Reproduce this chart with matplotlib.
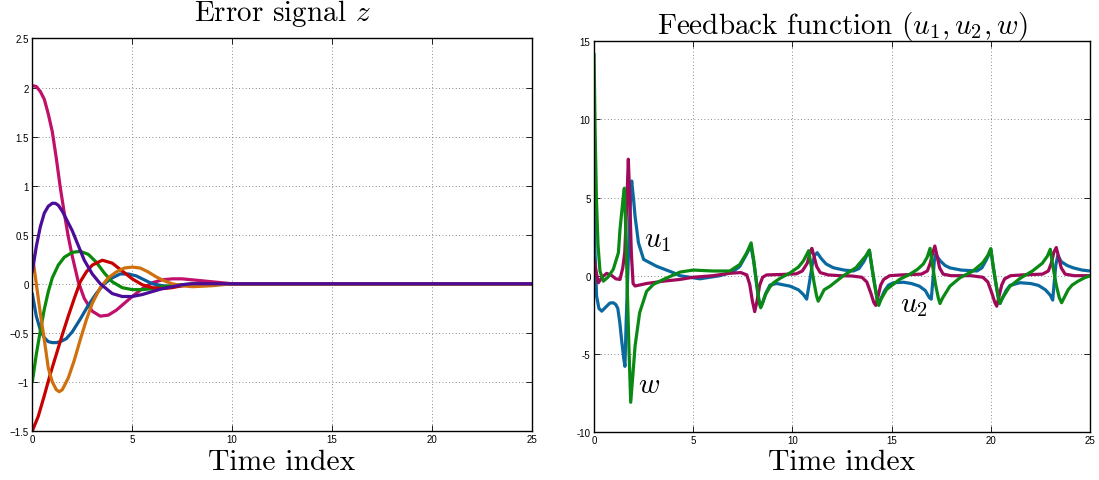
#!/usr/bin/env python
# -*- coding: utf8 -*-
#   plot.py
#
#   error signal z and feedback function (u1, u2, w)
#

import numpy as np
import matplotlib
matplotlib.use('Agg')
import matplotlib.pyplot as plt
from matplotlib.ticker import FuncFormatter

# ==============================================================================
# -- data ----------------------------------------------------------------------
# ==============================================================================

# left panel: six components of the error signal z
t_z1 = [0, 0.2, 0.4, 0.6, 0.8, 1.0, 1.2, 1.4, 1.6, 1.8, 2.0, 2.3, 2.6, 3.0, 3.4,
        3.8, 4.2, 4.6, 5.0, 5.5, 6.0, 6.5, 7.0, 7.5, 8.0, 9.0, 10.0, 25]
z1 = [2.02, 2.01, 1.96, 1.88, 1.73, 1.55, 1.28, 0.98, 0.72, 0.48, 0.28, 0.02, -0.15,
      -0.28, -0.33, -0.32, -0.27, -0.2, -0.13, -0.05, 0.01, 0.04, 0.05, 0.05, 0.04,
      0.02, 0.0, 0.0]

t_z2 = [0, 0.2, 0.4, 0.6, 0.8, 1.0, 1.15, 1.3, 1.5, 1.7, 2.0, 2.3, 2.6, 3.0, 3.4,
        4.0, 4.5, 5.0, 5.5, 6.0, 6.5, 7.0, 7.5, 8.0, 9.0, 25]
z2 = [0.12, 0.38, 0.58, 0.72, 0.79, 0.82, 0.82, 0.80, 0.74, 0.66, 0.54, 0.39, 0.24,
      0.1, 0.0, -0.1, -0.13, -0.13, -0.11, -0.08, -0.05, -0.03, -0.01, 0.0, 0.0, 0.0]

t_z3 = [0, 0.2, 0.4, 0.6, 0.8, 1.0, 1.3, 1.6, 2.0, 2.4, 2.8, 3.2, 3.6, 4.0, 4.5,
        5.0, 5.5, 6.0, 6.5, 7.0, 8.0, 9.0, 25]
z3 = [-1.0, -0.72, -0.48, -0.26, -0.08, 0.06, 0.19, 0.27, 0.32, 0.33, 0.3, 0.22,
      0.11, 0.02, -0.04, -0.06, -0.06, -0.05, -0.03, -0.02, 0.0, 0.0, 0.0]

t_z4 = [0, 0.3, 0.6, 0.9, 1.2, 1.5, 1.8, 2.1, 2.4, 2.7, 3.0, 3.5, 4.0, 4.5, 5.0,
        5.5, 6.0, 6.5, 7.0, 7.5, 8.0, 9.0, 25]
z4 = [-1.5, -1.35, -1.14, -0.92, -0.72, -0.52, -0.33, -0.15, 0.02, 0.12, 0.19, 0.24,
      0.21, 0.13, 0.05, -0.01, -0.04, -0.05, -0.04, -0.02, -0.01, 0.0, 0.0]

t_z5 = [0, 0.2, 0.4, 0.6, 0.8, 1.0, 1.2, 1.4, 1.7, 2.0, 2.4, 2.8, 3.2, 3.6, 4.0,
        4.4, 4.8, 5.2, 5.6, 6.0, 6.5, 7.0, 7.5, 8.0, 9.0, 25]
z5 = [-0.1, -0.33, -0.47, -0.55, -0.59, -0.6, -0.6, -0.59, -0.56, -0.49, -0.36,
      -0.22, -0.1, 0.0, 0.06, 0.1, 0.1, 0.08, 0.04, 0.0, -0.02, -0.03, -0.02, -0.01,
      0.0, 0.0]

t_z6 = [0, 0.1, 0.2, 0.4, 0.6, 0.8, 1.0, 1.2, 1.35, 1.5, 1.8, 2.1, 2.4, 2.7, 3.0,
        3.4, 3.8, 4.2, 4.6, 5.0, 5.4, 5.8, 6.2, 6.6, 7.0, 7.5, 8.0, 9.0, 10.0, 25]
z6 = [0.29, 0.15, 0.0, -0.3, -0.57, -0.86, -1.0, -1.08, -1.1, -1.08, -0.96, -0.78,
      -0.57, -0.37, -0.2, -0.04, 0.06, 0.12, 0.16, 0.17, 0.16, 0.12, 0.07, 0.03, 0.0,
      -0.02, -0.03, -0.02, 0.0, 0.0]

# right panel: feedback u1 (blue), u2 (magenta), w (green)
t_u1 = [0, 0.05, 0.13, 0.25, 0.39, 0.6, 0.8, 0.97, 1.1, 1.2, 1.3, 1.39, 1.5, 1.56,
        1.62, 1.7, 1.78, 1.86, 1.9, 2.0, 2.07, 2.24, 2.5, 3.16, 4.0, 4.33, 5.34, 6.35,
        7.0, 7.35, 7.7, 7.9, 8.05, 8.2, 8.32, 8.4, 8.5, 8.65, 8.87, 9.2, 9.88, 10.3,
        10.55, 10.72, 10.85, 11.0, 11.12, 11.25, 11.45, 11.7, 12.06, 12.6, 13.07,
        13.35, 13.6, 13.75, 13.88, 14.0, 14.15, 14.27, 14.35, 14.47, 14.65, 14.85,
        15.1, 15.6, 16.0, 16.4, 16.7, 16.9, 17.0, 17.08, 17.15, 17.22, 17.45, 17.7,
        17.94, 18.5, 19.3, 19.55, 19.75, 19.9, 20.0, 20.12, 20.27, 20.38, 20.46,
        20.58, 20.77, 20.97, 21.47, 22.0, 22.4, 22.75, 23.0, 23.12, 23.2, 23.28,
        23.38, 23.55, 23.85, 24.16, 24.6, 25.0]
u1 = [6.2, 1.5, -1.3, -2.1, -2.27, -2.0, -1.75, -1.73, -1.85, -2.1, -3.0, -4.1,
      -5.3, -5.8, -3.0, 0.0, 3.0, 5.5, 6.06, 4.8, 3.8, 2.1, 1.04, 0.6, 0.19, 0.0,
      -0.2, 0.0, 0.25, 0.6, 1.4, 1.95, 0.9, -0.6, -1.7, -2.0, -1.7, -1.15, -0.6,
      -0.5, -0.67, -0.9, -1.2, -1.5, -0.5, 0.7, 1.3, 1.47, 1.1, 0.75, 0.51, 0.36,
      0.3, 0.45, 0.9, 1.3, 1.62, 0.6, -0.6, -1.45, -1.8, -1.45, -0.95, -0.6, -0.45,
      -0.42, -0.5, -0.67, -0.95, -1.4, -1.5, -0.3, 0.9, 1.37, 0.95, 0.65, 0.5, 0.36,
      0.3, 0.5, 0.95, 1.35, 1.7, 0.6, -0.6, -1.4, -1.78, -1.45, -0.95, -0.62, -0.45,
      -0.5, -0.62, -0.9, -1.25, -1.56, -0.4, 0.7, 1.3, 0.9, 0.65, 0.5, 0.36, 0.3]

t_u2 = [0, 0.1, 0.22, 0.4, 0.64, 0.9, 1.1, 1.31, 1.45, 1.55, 1.65, 1.73, 1.8, 1.88,
        1.97, 2.07, 2.65, 3.5, 4.33, 5.0, 6.0, 6.8, 7.4, 7.7, 7.85, 7.98, 8.1, 8.22,
        8.35, 8.5, 8.7, 9.5, 10.2, 10.5, 10.75, 10.9, 10.98, 11.08, 11.22, 11.4, 11.8,
        12.4, 13.0, 13.5, 13.75, 13.95, 14.1, 14.2, 14.32, 14.45, 14.6, 14.9, 15.5,
        16.5, 16.8, 16.95, 17.08, 17.18, 17.3, 17.42, 17.6, 18.0, 19.0, 19.6, 19.85,
        20.05, 20.2, 20.3, 20.42, 20.55, 20.7, 21.0, 21.6, 22.6, 22.9, 23.05, 23.18,
        23.3, 23.42, 23.55, 23.75, 24.2, 25.0]
u2 = [1.05, 0.3, -0.45, -0.1, 0.15, 0.0, -0.2, -0.24, 0.5, 1.5, 4.5, 7.45, 5.0, 1.5,
      -0.5, -0.66, -0.5, -0.35, -0.24, -0.1, 0.0, 0.15, 0.2, 0.05, -0.56, -1.6, -2.3,
      -1.6, -0.6, -0.1, 0.05, 0.08, 0.12, 0.3, 0.8, 1.5, 1.75, 1.3, 0.6, 0.2, 0.05,
      0.0, -0.02, -0.1, -0.4, -1.1, -1.7, -1.9, -1.3, -0.6, -0.24, 0.0, 0.05, 0.1,
      0.3, 0.8, 1.5, 1.9, 1.2, 0.5, 0.1, 0.0, 0.0, -0.1, -0.4, -1.1, -1.7, -1.95,
      -1.3, -0.6, -0.2, 0.0, 0.05, 0.1, 0.3, 0.8, 1.5, 1.8, 1.2, 0.5, 0.1, 0.0, 0.0]

t_w = [0, 0.06, 0.12, 0.2, 0.3, 0.47, 0.7, 0.97, 1.23, 1.31, 1.48, 1.53, 1.6, 1.68,
       1.77, 1.85, 1.98, 2.07, 2.3, 2.65, 3.0, 3.5, 4.33, 5.0, 6.0, 6.85, 7.35, 7.7,
       7.92, 8.05, 8.2, 8.32, 8.4, 8.5, 8.65, 8.85, 9.05, 9.4, 9.9, 10.3, 10.55, 10.72,
       10.82, 10.95, 11.1, 11.22, 11.3, 11.42, 11.6, 11.9, 12.57, 13.2, 13.7, 13.88,
       14.0, 14.15, 14.27, 14.35, 14.47, 14.75, 15.4, 15.9, 16.3, 16.6, 16.8, 16.94,
       17.07, 17.22, 17.35, 17.44, 17.56, 17.94, 18.45, 19.1, 19.6, 19.85, 20.0, 20.12,
       20.27, 20.38, 20.46, 20.58, 20.95, 21.5, 22.1, 22.6, 22.85, 23.0, 23.13, 23.3,
       23.45, 23.57, 23.7, 23.9, 24.1, 24.4, 24.7, 25.0]
w = [14.2, 9.0, 5.0, 2.0, 0.3, -0.35, -0.1, 0.4, 1.47, 2.97, 5.1, 5.6, 3.0, -1.0,
     -5.0, -8.1, -6.0, -4.5, -2.37, -1.0, -0.55, -0.24, 0.23, 0.36, 0.3, 0.3, 0.72,
     1.47, 2.1, 1.0, -0.5, -1.6, -2.05, -1.75, -1.2, -0.75, -0.45, -0.15, 0.19, 0.55,
     0.94, 1.35, 1.6, 0.6, -0.5, -1.3, -1.63, -1.35, -0.9, -0.67, 0.0, 0.51, 1.26,
     1.64, 0.6, -0.6, -1.5, -1.9, -1.5, -0.88, -0.24, 0.08, 0.4, 0.75, 1.2, 1.75, 0.6,
     -0.6, -1.4, -1.78, -1.45, -0.67, -0.13, 0.3, 0.83, 1.3, 1.73, 0.6, -0.6, -1.4,
     -1.78, -1.45, -0.7, -0.15, 0.3, 0.8, 1.25, 1.69, 0.6, -0.6, -1.4, -1.73, -1.4,
     -0.9, -0.6, -0.35, -0.15, 0.0]

z_colors = ['#c0106a', '#0c5c9c', '#0a8a0a', '#c80000', '#d0700c', '#4b0c9a']
u_colors = ['#0a6aa0', '#a0085a', '#0a8a14']

# ==============================================================================
# -- plotting ------------------------------------------------------------------
# ==============================================================================
plt.rcParams['mathtext.fontset'] = 'cm'
plt.rcParams['font.family'] = ['Liberation Sans', 'DejaVu Sans']

fig = plt.figure(figsize=(10.99, 4.81), dpi=100)
ax1 = fig.add_axes([0.0294, 0.102, 0.4546, 0.816])
ax2 = fig.add_axes([0.5405, 0.0998, 0.4513, 0.8124])


def style_axis(ax, minus):
    ax.tick_params(direction='in', top=True, right=True, length=4, width=0.6,
                   labelsize=7, pad=2.5, colors='black')
    for sp in ax.spines.values():
        sp.set_linewidth(1.0)
    ax.grid(True, linestyle=(0, (1, 3)), color='#666666', linewidth=0.6)
    ax.set_axisbelow(True)
    ax.yaxis.set_major_formatter(FuncFormatter(lambda v, p: ('%g' % v).replace('-', minus)))


# left: error signal
z_t = [t_z1, t_z5, t_z3, t_z4, t_z6, t_z2]
z_v = [z1, z5, z3, z4, z6, z2]
for tt, vv, cc in zip(z_t, z_v, z_colors):
    ax1.plot(tt, vv, color=cc, linewidth=2.3, solid_capstyle='round')
ax1.set_xlim(0, 25)
ax1.set_ylim(-1.5, 2.5)
ax1.set_xticks(np.arange(0, 26, 5))
ax1.set_yticks(np.arange(-1.5, 2.51, 0.5))
style_axis(ax1, '\u2212')
ax1.set_title('Error signal $z$', fontsize=21, family='cmr10', pad=13)
ax1.set_xlabel('Time index', fontsize=21.3, family='cmr10', va='baseline')
ax1.xaxis.set_label_coords(0.5, -0.097)

# right: feedback function
for tt, vv, cc in zip([t_u1, t_u2, t_w], [u1, u2, w], u_colors):
    ax2.plot(tt, vv, color=cc, linewidth=2.3, solid_capstyle='round')
ax2.set_xlim(0, 25)
ax2.set_ylim(-10, 15)
ax2.set_xticks(np.arange(0, 26, 5))
ax2.set_yticks(np.arange(-10, 16, 5))
style_axis(ax2, '-')
ax2.set_title('Feedback function $(u_1, u_2, w)$', fontsize=21, family='cmr10', pad=6)
ax2.set_xlabel('Time index', fontsize=21.3, family='cmr10', va='baseline')
ax2.xaxis.set_label_coords(0.5, -0.095)

ax2.text(2.52, 1.88, '$u_1$', fontsize=21, va='baseline', ha='left')
ax2.text(2.22, -7.42, '$w$', fontsize=21, va='baseline', ha='left')
ax2.text(15.42, -2.27, '$u_2$', fontsize=21, va='baseline', ha='left')

fig.savefig('out.png', dpi=100)
